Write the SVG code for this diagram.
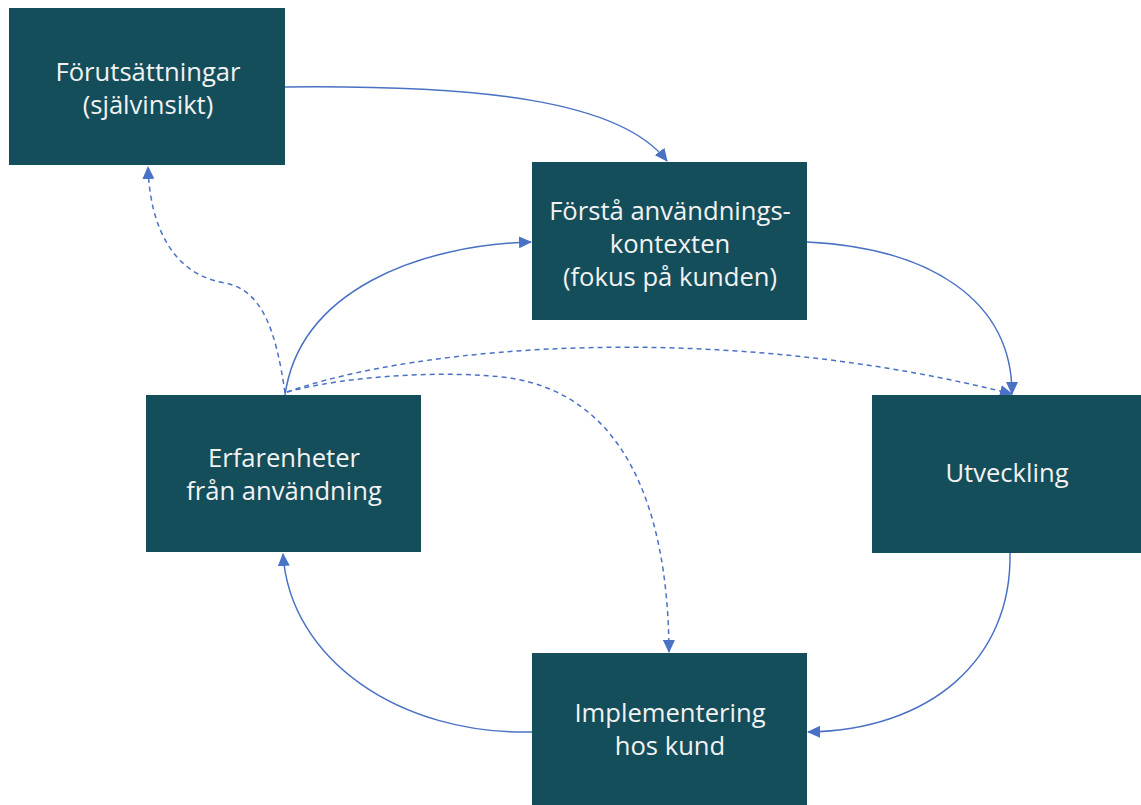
<svg xmlns="http://www.w3.org/2000/svg" width="1141" height="805" viewBox="0 0 1141 805">
<style>
.box{fill:#144e5a}
.t{font-family:"Open Sans","Liberation Sans",sans-serif;font-size:25.6px;fill:#f2f2f2;text-anchor:middle}
.c{fill:none;stroke:#4a72c4;stroke-width:1.5}
.d{stroke-dasharray:5 4}
</style>
<defs>
<marker id="ah" markerUnits="userSpaceOnUse" markerWidth="14" markerHeight="12" refX="12" refY="6" orient="auto">
<path d="M0,0 L13,6 L0,12 Z" fill="#4a72c4"/>
</marker>
</defs>
<rect width="1141" height="805" fill="#ffffff"/>
<g id="connectors">
<path class="c" d="M285,87 C480,85 620,100 667,161" marker-end="url(#ah)"/>
<path class="c" d="M807,242 C930,248 1012,300 1012,394" marker-end="url(#ah)"/>
<path class="c" d="M1010,553 C1012,660 930,730 808,732" marker-end="url(#ah)"/>
<path class="c" d="M532,732 C400,735 290,660 283,554" marker-end="url(#ah)"/>
<path class="c" d="M285,395 C300,290 420,245 531,242" marker-end="url(#ah)"/>
<path class="c d" d="M285,393 C276,330 262,290 225,283 C175,275 150,230 148,167" marker-end="url(#ah)"/>
<path class="c d" d="M287,392 C420,345 720,320 1012,394" marker-end="url(#ah)"/>
<path class="c d" d="M287,392 C350,375 450,370 510,378 C620,395 668,500 669,652" marker-end="url(#ah)"/>
</g>
<g id="n1"><rect class="box" x="9" y="8" width="276" height="157"/>
<text class="t" x="148" y="81">Förutsättningar</text><text class="t" x="148" y="114">(självinsikt)</text></g>
<g id="n2"><rect class="box" x="532" y="162" width="275" height="158"/>
<text class="t" x="670" y="220">Förstå användnings-</text><text class="t" x="670" y="253">kontexten</text><text class="t" x="670" y="286">(fokus på kunden)</text></g>
<g id="n3"><rect class="box" x="146" y="395" width="275" height="157"/>
<text class="t" x="284" y="467">Erfarenheter</text><text class="t" x="284" y="500">från användning</text></g>
<g id="n4"><rect class="box" x="872" y="395" width="269" height="158"/>
<text class="t" x="1007" y="482">Utveckling</text></g>
<g id="n5"><rect class="box" x="532" y="653" width="275" height="152"/>
<text class="t" x="670" y="722">Implementering</text><text class="t" x="670" y="755">hos kund</text></g>
</svg>
